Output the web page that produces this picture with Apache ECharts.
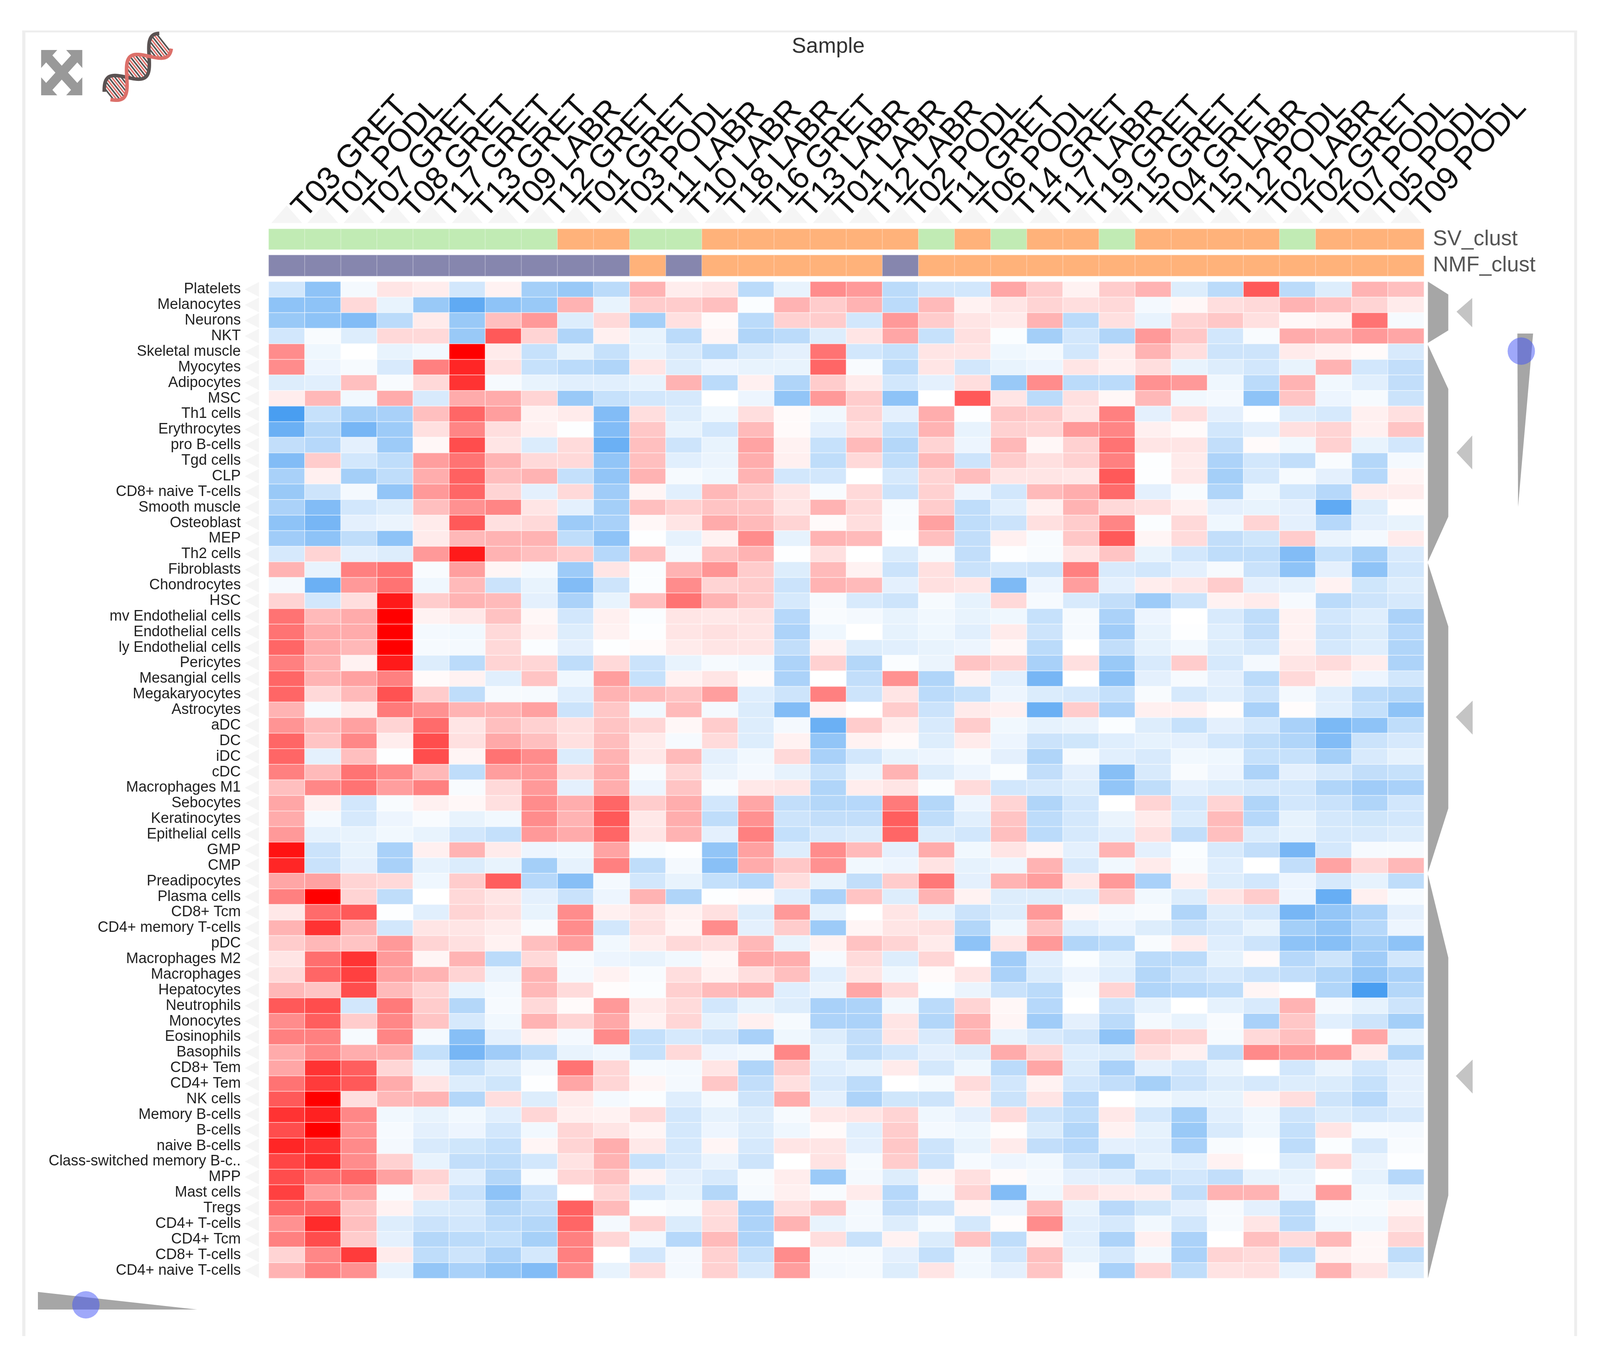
<!DOCTYPE html>
<html>
<head>
<meta charset="utf-8">
<title>Sample heatmap</title>
<script src="https://cdn.jsdelivr.net/npm/echarts@6/dist/echarts.min.js"></script>
<style>
html, body { margin: 0; padding: 0; background: #fff; overflow: hidden; }
#chart { width: 100vw; height: 100vh; }
</style>
</head>
<body>
<div id="chart"></div>
<script>
const sampleLabels = ['T03 GRET','T01 PODL','T07 GRET','T08 GRET','T17 GRET','T13 GRET','T09 LABR','T12 GRET',
  'T01 GRET','T03 PODL','T11 LABR','T10 LABR','T18 LABR','T16 GRET','T13 LABR','T01 LABR',
  'T12 LABR','T02 PODL','T11 GRET','T06 PODL','T14 GRET','T17 LABR','T19 GRET','T15 GRET',
  'T04 GRET','T15 LABR','T12 PODL','T02 LABR','T02 GRET','T07 PODL','T05 PODL','T09 PODL'];

const cellLabels = ['Platelets','Melanocytes','Neurons','NKT','Skeletal muscle','Myocytes','Adipocytes','MSC',
  'Th1 cells','Erythrocytes','pro B-cells','Tgd cells','CLP','CD8+ naive T-cells','Smooth muscle','Osteoblast',
  'MEP','Th2 cells','Fibroblasts','Chondrocytes','HSC','mv Endothelial cells','Endothelial cells','ly Endothelial cells',
  'Pericytes','Mesangial cells','Megakaryocytes','Astrocytes','aDC','DC','iDC','cDC',
  'Macrophages M1','Sebocytes','Keratinocytes','Epithelial cells','GMP','CMP','Preadipocytes','Plasma cells',
  'CD8+ Tcm','CD4+ memory T-cells','pDC','Macrophages M2','Macrophages','Hepatocytes','Neutrophils','Monocytes',
  'Eosinophils','Basophils','CD8+ Tem','CD4+ Tem','NK cells','Memory B-cells','B-cells','naive B-cells',
  'Class-switched memory B-c..','MPP','Mast cells','Tregs','CD4+ T-cells','CD4+ Tcm','CD8+ T-cells','CD4+ naive T-cells'];

// 0 = green, 1 = orange
const svClust = [0,0,0,0,0,0,0,0,1,1,0,0,1,1,1,1,1,1,0,1,0,1,1,0,1,1,1,1,0,1,1,1];
// 2 = purple, 1 = orange
const nmfClust = [2,2,2,2,2,2,2,2,2,2,1,2,1,1,1,1,1,2,1,1,1,1,1,1,1,1,1,1,1,1,1,1];

// -10 full blue .. 10 full red
const cellValues = [
[-2,-5,-.5,1,.7,-2,.5,-4,-4.5,-3,3,.7,1,-3,-1,4.5, 4,-3,-2,-2,3.5,2,.5,2,3,-1.5,-3,6.5,-3,-1.5,3,2.5],
[-5,-5,1.5,-1,-4.5,-7,-5,-4.5,3,-1,2,2,2.5,-.2,3,2, 3,-3,2.7,.5,1,1.7,1.3,1.5,-.5,.3,1.3,1.5,3,2.5,1.7,.8],
[-4.5,-5,-5.5,-3,.8,-4.5,2.5,4,-1.5,1.5,-4,1.2,.2,-3,1.8,2, -2,4,2,1,.8,3,-3,1.2,-1,1.7,2.2,1.2,.3,.5,5.5,-.4],
[-2,-.3,-1.5,1.5,1.5,-4.5,6.5,1.7,-3.5,.6,-1,-3,.4,-3.5,-3,-1.5, 1,3.5,-2.5,1.2,-.2,-4,-2,-3.5,4,2.2,-2,-.3,3.3,3,4,3.5],
[4.5,-.7,0,-1,-.6,10,.8,-2.5,-1,-2.5,-1,-1.7,-3,-1.7,-1.2,5.5, -2,-2.5,1,1,-.7,-.5,-2,.7,3,1.3,-2.2,-2.2,.8,.5,.2,-1.7],
[4.5,-.8,-.4,-1.7,5,8.5,1.2,-2.5,-3,-3.5,1,-1.5,-.8,-1,-1,6, -.3,-3,1,-2,-1,-.8,1,.6,1.3,-1,-1.5,-2,-1,3,-2,-2.7],
[-1.5,-1.3,2.5,-.3,1.5,8,-.4,-1,-1.3,-1.3,-1,3,-3,.6,-3.5,2, .8,-2,-1.2,1.3,-4.5,4.5,-3,-3,4.3,4,-.7,-3,3,-.6,-1.3,-2.7],
[.7,2.8,-.6,3.3,-1.7,3.3,3.3,1.7,-4.5,-2.5,-2,-1.8,0,-.8,-4.8,4, 2,-5,0,6.5,1,-3,1.2,.3,2.8,-.6,-.5,-5,2.3,-.8,-.4,-2.3],
[-8,-2.5,-4,-3.8,2.5,6,3.8,.5,.8,-5.5,1.3,-1.5,-.7,1.3,.2,-.6, 1.7,-1.2,3.2,-.1,2.2,2,1,5,-1.2,1.3,-1.2,-.1,-1.5,-1.8,.6,1.2],
[-6.5,-3.3,-6,-4.3,1.2,4.8,1.3,.6,-.1,-5.5,2.2,-1,-2,2.7,.2,-1.2, 1.3,-2.5,3,-1,1.8,1.7,4,4.8,.6,.2,-2,-1.2,1.2,1.7,.6,2.3],
[-2.7,-3.2,-1.2,-4.3,.3,7,1,-1.6,1.4,-6.5,2.5,-2.2,-1,3.6,.5,-2.5, 2.7,-3.3,1.7,-.8,2.8,.3,1.8,5.5,1,1,-2.7,.2,-.6,1.8,-1,-2],
[-5.5,2,-2,-2.8,3.8,5.5,3,1.5,1.5,-4.8,2.5,-1.3,-.9,3.2,.6,-2.8, 1.5,-2.8,2.8,-2.2,2,1.2,1.8,5,-.1,.8,-3.6,-2,-2.7,-.3,-3.3,-.5],
[-3.8,.6,-4,-2.8,3.2,6.2,2.6,3,-2.6,-4.8,3,-.4,-.7,3,-2,-2, 0,-1.8,1.7,2.6,1,1,.9,6.5,-.1,.9,-4,-1.8,-.4,-1.2,-3.2,.4],
[-4.5,-2.2,-.5,-4.8,4,6,1.7,-1.2,1.5,-4.2,.4,-1.3,2.8,2,1,-.3, 1.5,-2.3,1.8,-.8,-2,2.7,3.2,5.8,-1.2,-.3,-3.5,-.7,-2,-3.2,.7,.7],
[-3.7,-5.5,-2,-1.5,2.5,4.3,4.8,1,-1.2,-4,2.5,1.8,2.3,2.3,1,3, 1.5,-.3,2,-2.8,-1.3,.6,3,1.5,1.2,.6,-1.2,-1,-1.2,-7,-1.5,.1],
[-5,-6,-1.2,-.9,.8,6.5,1.2,1.5,-4.3,-3.8,.3,1,3.3,2.7,1.7,.2, 1.3,-.3,3.7,-2.8,-2.3,1.2,2,4.8,-.2,1.5,-.7,1.7,-1.2,-3.2,-1.2,-1],
[-4.2,-5,-2.8,-5,.8,2.8,3,3,-2.8,-5,-.1,-1.1,.5,4.5,-1.1,3, 2.7,-.1,2.5,-2.7,.6,-.3,2.2,6.5,.4,1.4,-2.7,-2.1,2,-.9,-.5,.8],
[-1.8,1.7,-1.2,-1.5,4,9,3,2.5,2,-3.2,2.5,-.5,2.4,3,-.1,1.2, 0,-1.6,-.4,-2.7,-.1,-.3,1,2.3,-1,-2,-2.8,-2.8,-5.5,-2.5,-4,-1.7],
[3,-1,5,5.5,-.3,3.8,.4,-.5,-4.3,1,-.2,3,4.2,2,-1.5,2.7, .5,-2.3,1.2,-2.4,-2,-2.2,5,-1.7,-2,-1.2,-.4,-2.4,-5,-1.2,-5,-2],
[-.5,-6.5,4,5.5,-.7,2.7,-2.3,-1,-5.5,-2.2,-.2,4.5,1.7,2,-2.3,3, 2.7,-1.2,1.2,1,-5.7,-.8,3.8,-1.2,.7,1,2,-1.2,-1.1,.5,-2.1,-1.5],
[1.7,-2,1.3,9,2,3,2.7,-1.2,-3.7,-1,2.5,5.5,3,2,-1.8,-.4, -1.7,-2.2,-.4,-1.1,1.5,-.4,-1.7,-2.7,-4.3,-2.3,.5,.8,-.4,-3,-2.2,-1.8],
[5.5,2.7,3.3,10,.5,.9,2.4,.3,-2,.6,-.2,1,.9,1.1,-3.2,-.3, -.5,-1,-.6,-1,-.7,-2.5,-.4,-3.7,-.8,0,-1.7,-2.8,.5,-2,-1.4,-3.7],
[5.5,3.3,3.3,10,-.5,-.6,1.5,.5,-1.5,.5,-.1,1,1.2,1,-3.6,-.7, 0,-1.1,-.7,-1.3,.8,-2.2,-.4,-4.2,-1,-.1,-1.4,-2.7,.5,-2.2,-1.6,-3.2],
[6,3.3,2.8,10,-.4,-.5,1.5,-.2,-1.2,-.1,.2,.8,1,1,-2.7,.5, -1.5,-1.3,-1,-.8,.3,-3,0,-2.7,-1.1,-.6,-1.5,-1.9,.6,-1.9,-1.4,-3.5],
[5,3,.5,9,-1.5,-3,1.7,1.6,-2.8,1.5,-2.3,-1,-.4,-.6,-3.6,1.8, -3.3,-.2,-.9,2.3,1.7,-3.8,1.2,-4.5,-1.7,2,-1.8,-.5,1,1.4,.7,-3.6],
[6,3,3.7,5,.2,.5,-1.3,2.3,-.7,3.8,-2.5,.5,1,.2,-3.7,0, -2.7,4.3,-3.5,.5,-1.2,-6,0,-5.2,-1.2,-.4,-1.2,-3,1.5,.5,-.8,-2],
[6,1.5,2.7,6.8,2,-2.8,-.4,-.4,-1.4,3,2.7,2.3,3.8,-1.4,-2.2,5, -2.2,1,-3,-2.5,-.8,-1.6,-1.8,-2.6,-.3,-1.8,-1.3,-2.2,-.5,-1.4,-3,-3.3],
[3,-.4,.8,5.2,4.3,3,3,3.7,-2.3,2.2,-.6,2.7,-.5,-1.6,-5.5,.5, 0,2,-2.3,.8,.6,-6.5,2,-3.7,.6,.6,.1,-3.8,.1,-1.3,-2.6,-5],
[4.2,2.7,3.7,1.7,5.8,1,2.5,1.8,1.2,2.3,1.6,.3,2,-1.5,-.5,-6.5, 2,.7,-1.7,2,-.6,-1.1,-.9,-.2,-1.5,-2.5,-1.2,-1.9,-3.8,-5.8,-5,-2.8],
[6,2.3,4.7,.7,7,1.2,3.4,2.5,1.2,2.6,.8,-.4,1.4,-1.5,.5,-4.8, .5,.2,-1.5,.8,-.8,-2.3,-2.1,-1.4,-1.1,-1.2,-2,-2.8,-3.5,-5.5,-2.3,-1.8],
[6,-1.2,2.5,-.1,7,.4,5.5,4.5,-1.6,3,.9,2.7,-1.2,-.6,1.5,-3.8, -2,-1,-.8,-.4,-1.2,-3.5,-.4,-1.3,-1.7,-.6,-.7,-2.5,-2.5,-4,-1.7,-1.1],
[5,2.7,5.5,4.6,2.8,-2.8,3.8,4,1.5,3.2,-.3,1.6,-.9,-.5,-1.1,-2.5, -.9,3,-1.5,-.8,-.2,-2.7,-1.2,-5.3,-1.7,-.3,-.8,-3.6,-1.2,-1.8,-2.7,-2.5],
[2.5,4.7,5.5,3.8,5,-.3,1.5,4,-1.2,3.2,-.8,2.3,-.3,.9,1,-3.5, .7,1,-.2,1.4,-2,-1.8,-1.5,-4.8,-2.8,-1.2,-1.6,-1.8,-2,-3.5,-4.2,-3.8],
[3.5,.6,-2,-.3,.6,.3,1.2,4.5,3.2,6,2,3.2,-2,3.5,-2.7,-3.3, -3.2,5.2,-3.3,-.8,1.7,-3.5,-2,0,1.7,-2,1.7,-3.5,-2,-2.4,-3.5,-2],
[3.3,-.5,-1.8,-.8,-.3,-1,-.6,4.5,3,6.5,.9,3.2,-2.8,4.3,-2.2,-2.7, -2.7,6.3,-2.8,-1.3,2.3,-2.9,-1.9,-.9,.8,-1.6,2.7,-3.2,-1.1,-1.9,-2.1,-2],
[4,-1.1,-1,-.6,-1,-2,-2.6,4,3.3,6,1,3,-1.2,5,-2.6,-1.8, -1.6,6,-1.6,-2,2.5,-3,-1.8,-1.3,1.2,-2.7,2.5,-1.6,-1.1,-1.8,-1.7,-1.5],
[9.3,-2.3,-1,-3.8,.6,3,.8,-.8,-.7,3.6,-.3,-.1,-4.8,3.7,-1.5,4.5, 2.7,-1.2,3.3,-.6,1,.4,-1.2,3,-1.2,-.2,-1.7,-2.7,-6,-1.9,-.4,-.4],
[8.5,-2.4,-1.2,-3.8,-1.1,-1.6,-1,-4,-1.1,5,-2.8,-.5,-5.2,3.3,2.2,4.3, -.6,-.8,1.1,-1.1,-.8,3,-1.7,-.6,.8,-.3,-1.4,0,-2.7,3.6,1.5,2.8],
[3.5,3.7,1.7,1.5,-.7,2,6.3,-3.2,-5.3,-.5,-2,-1,-2.6,-3.2,1.3,-1, -2.7,2,5.3,-1.2,3,3.8,.9,4,-3.8,.6,-1.5,-2,-.8,-1.8,-1.1,-2.8],
[5,10,1.7,-2.8,0,1.5,1,-1.2,-2.4,-.8,3,-3.5,-.1,.2,-1.4,-3.7, 2.3,-1.5,3,.5,-1.5,-1.5,-1.5,2,-.6,-1.5,1,2,-.8,-6.7,.6,-.4],
[.9,5.8,6.5,-.1,-1.3,1.7,1.2,-1,4.5,.6,1,.5,1.2,-1.5,4,-1.1, 0,1,-1,-2.3,-1.5,4,.3,-.5,-.3,-3.5,-1.5,-2,-6,-4.7,-3.6,-1.2],
[3,8,3,-2,1,1,.7,-.3,4.5,-2,1.2,.4,4.5,-1.2,2,-4.3, .4,1,1.2,-3.4,-.7,2.4,-1.3,-.8,-1.5,-2.3,-1.8,-1,-4,-4.8,-3.2,-.8],
[2,2.8,2.3,4,1.7,1.2,.5,2.5,3.8,-.6,.7,1.5,1.2,2.8,-1,.5, 2.4,1.7,.8,-5,1,4,-3.4,-3,-.3,.8,-1.4,-2.2,-5,-5.3,-4,-5],
[1,5.7,8,4,.4,3,-3,1.5,-.4,-.8,-1,-.6,.3,3.5,3.2,-.4, 1.4,-1.5,1.6,0,-4.2,-1.3,-.2,-1.1,-3,-3,-1.1,.2,-3.2,-2.2,-4.2,-2],
[1.5,6,7.5,3.7,3,1.7,-.9,3,-.5,.5,-.3,1.3,.5,1.3,2.5,-1.3, 1,-.7,.2,1,-3.7,-1.6,-.8,-1.4,-3.3,-2.2,-1.8,-2.3,-2.7,-3.5,-4.7,-3.8],
[2.8,2.3,7,2.7,1.7,-1,-.5,2.8,1.4,.1,-.2,1.9,2.7,3.1,-1.4,-.9, 3.5,1.5,-.2,-.9,-2.4,-3,-.3,1.7,-3.5,-3.2,-2.8,.4,-.1,-3.5,-8,-3.3],
[6.5,7,-2,5.2,2,-3.3,-.4,1.5,.2,4,.8,1.4,-2,-1,-1.5,-3.8, -3.6,-.6,-3,1.7,.3,-3.2,0,-2.2,-1.1,0,-1.1,-1.7,3,-.5,-1.1,-2.2],
[4.5,6.3,2,4.7,2.3,-1.8,-.6,3,1.7,3.4,.5,1.6,-1.1,.6,-.4,-3.6, -3.7,1,-3.4,3,.4,-4.2,-1.2,-3,-.5,-1,-.3,-3.8,2.2,-1.3,-2.2,-4],
[5,5,-.4,4.8,-.5,-5.3,-1.2,.6,-.5,4.6,-2.6,-1.8,-2.2,-3.8,-.7,-1.5, -2.7,1,-1.7,3,-1,-1.7,-2.2,-5,2,1.7,-.4,1.5,2.5,-.1,3.5,-1.1],
[3.3,4.7,3.2,3.2,-2.6,-6,-4.2,-2.8,-1,-.7,-2.5,1.5,-.8,-.6,4.7,-1, -2.8,-2,-1.2,-1.5,3.3,1.6,-1.4,-1.6,1.2,.6,-2.7,4.6,4,4,.7,-3.3],
[3.5,8,6.3,1.6,-.9,-2.6,-1.5,-.5,5.5,1.6,-.4,-.5,1,-3.5,2,-1.4, -1,.8,-1.9,-.7,-3,3.5,-1.6,-3.8,-1.2,-2,-1,0,-2,-.9,-2,-1.2],
[5.5,7.7,6.5,3.3,1,-1.5,-2.1,-.1,3.5,1.6,.4,-.5,2.2,-2.7,1.2,-1.7, -2.9,0,-.4,1.4,-2,.5,-2,-2.7,-3.9,-2.3,-1.5,-1.8,-1.5,-1.6,-2.5,-1.2],
[6.5,10,1.3,2.8,3,-3.3,1.3,-1.5,.8,-.5,-.2,-1.4,-.5,-2.2,3.3,-1.2, -3.6,-2.1,-2.2,.7,-2.3,1,-3.1,0,-.6,-1,-1,.5,1.3,-2.2,-3.2,-1.2],
[8,8.7,4.7,-.6,-1,-.6,-1.3,1.6,.6,.5,1.5,-2,-1.1,-1.5,-.4,.9, 1,1.7,-.7,-1.2,1.4,-2.2,-2.8,.9,-1.9,-4,-1.3,-.7,-2.2,-1.6,-2,-1.7],
[7,10,4.3,-.4,-1.2,-.8,-2,-.6,1.6,1,.4,-1.9,-.8,-1.5,-.7,.2, -1.3,2,-.5,-.7,.1,-1.6,-3.4,.5,-1.1,-4.5,-1.7,-.7,-2.6,1,-.4,-.5],
[8.5,8,4.6,-.5,-1.7,-2.1,-2.6,.4,1.7,3.2,.9,-1.9,.4,-1.8,1,1, -1.2,2.2,-2.2,-1,.8,-2.7,-3.2,-1.2,-1.3,-3.8,-.3,-.1,-2.9,-.2,-1.7,-.3],
[7.3,8.3,4.5,1.8,-1,-2.7,-2.9,-2,1.1,3,-2.5,-1.8,-.9,-2.2,0,1.1, -.4,2,-2.4,-.4,-.8,-.6,-2.2,-3.5,-1,-1.3,.5,0,-1.6,1.6,-.9,-.1],
[7,5.7,6,3.7,1.7,-1.3,-3.3,-.3,1.6,2.4,.5,-1.2,-1.7,-.3,.7,-4.4, -.5,-1.5,.4,1.2,.2,-.5,-1.2,-1.3,-2.6,-2,-2.7,-1,-1,-.1,-1.1,-3.2],
[7.5,3.8,3.7,-.3,1,-2.4,-5,-2.3,0,1.6,-2,-1.1,-3.3,-.4,.6,-.3, .8,-3.2,-.5,1.7,-5.5,-.7,1.2,.8,.7,-2.7,3,3,-.8,3.8,-.6,-1],
[6,6,2.3,.5,-1.6,-1.7,-3.4,-2.7,6.2,2.7,-.2,-.4,1.3,-3.7,1.3,2.2, -.5,-2.7,-2.2,.4,-.8,2.8,-1,-3.1,-2.1,-1.2,-.4,-1.2,-2.9,-.4,-.4,.4],
[4.3,8.3,2.5,-1.5,-2.3,-2,-2.9,-3.3,6,-.5,1.8,-1.6,1.4,-3.6,3,-1, -.5,-1.5,-.4,-1.9,.1,4.5,-1.3,-1.8,-.6,-2,-.4,1,-3,-.7,-.7,1],
[5,7,2,-1.2,-3.3,-3,-2.6,-3.9,5,1.6,-.6,-3.2,2.7,-3.6,-.1,1.3, -2.4,.5,-1.6,2.4,-2.8,.4,-1.3,-3.6,.6,-3.7,0,2.5,1.4,2.8,.3,1.7],
[1.7,4.7,7.7,.8,-2.8,-2.2,-3.6,-1.9,5,0,-2,-.5,1.8,-2.5,4.5,-.4, -.4,-1.2,-2.6,-.6,-2,2.5,-1,-1.8,-.6,-3.7,1.7,1.4,-3,.5,.3,-2.8],
[3,5,4.3,-1,-4.7,-3.8,-4.7,-5.5,4.5,-1,1.4,-.5,1.8,-1.7,3.8,-.5, -.4,-1.5,1,-.6,-1.2,2.3,-.3,-3.8,1.7,-2.8,1.1,1.2,-1.1,3,1,-1.5]
];

const PAGE_FONT = '"Liberation Sans", Arial, sans-serif';

const chartEl = document.getElementById('chart');
const chart = echarts.init(chartEl);

// layout is measured in the 4472 wide reference, the window may be narrower
const sx = chart.getWidth() / 4472;
const X = v => v * sx;
const fs = v => Math.round(v * sx);

const HEAT = { left: 751, top: 721, width: 3229, height: 2552 };
const SV_TOP = 586, NMF_TOP = 653, TRACK_H = 53;

function heatData () {
    const out = [];
    cellValues.forEach((row, r) => row.forEach((v, c) => out.push([c, r, v])));
    return out;
}

function poly (points, fill) {
    return { type: 'polygon', silent: true, shape: { points: points.map(p => [X(p[0]), p[1]]) }, style: { fill: fill } };
}

function box (x, y, w, h, fill) {
    return { type: 'rect', silent: true, shape: { x: X(x), y: y, width: X(w), height: h }, style: { fill: fill } };
}

function bar (x1, y1, x2, y2, stroke, w) {
    return { type: 'line', silent: true, shape: { x1: X(x1), y1: y1, x2: X(x2), y2: y2 }, style: { stroke: stroke, lineWidth: w } };
}

function dot (cx, cy) {
    return { type: 'circle', silent: true, z: 10, shape: { cx: X(cx), cy: cy, r: 35 }, style: { fill: '#3f51f5', opacity: 0.5 } };
}

// frame, pale triangles, dendrogram, sliders and the two icons
function decoration () {
    const g = [];
    const frame = '#eeeeee';
    g.push(box(62, 78, 4346, 5, frame), box(62, 78, 9, 3343, frame), box(4400, 78, 8, 3343, frame));

    const colW = HEAT.width / sampleLabels.length, rowH = HEAT.height / cellLabels.length;
    sampleLabels.forEach((s, i) => {
        const cx = HEAT.left + colW * (i + 0.5);
        g.push(poly([[cx - 43, 571], [cx, 526], [cx + 43, 571]], '#f5f5f5'));
    });
    cellLabels.forEach((s, i) => {
        const cy = HEAT.top + rowH * (i + 0.5);
        g.push(poly([[724, cy - 19], [684, cy], [724, cy + 19]], '#f5f5f5'));
    });

    const dendro = '#a6a6a6';
    g.push(poly([[3991, 721], [4048, 754], [4048, 846], [3991, 878]], dendro));
    g.push(poly([[3991, 883], [4048, 996], [4048, 1323], [3991, 1438]], dendro));
    g.push(poly([[3991, 1442], [4048, 1604], [4048, 2070], [3991, 2234]], dendro));
    g.push(poly([[3991, 2239], [4048, 2452], [4048, 3061], [3991, 3273]], dendro));

    const side = '#c4c4c4';
    g.push(poly([[4071, 798], [4115, 763], [4115, 838]], side));
    g.push(poly([[4071, 1159], [4115, 1115], [4115, 1202]], side));
    g.push(poly([[4069, 1836], [4116, 1794], [4116, 1881]], side));
    g.push(poly([[4069, 2755], [4116, 2713], [4116, 2800]], side));

    g.push(poly([[4241, 854], [4285, 854], [4243, 1298]], dendro), dot(4252, 899));
    g.push(poly([[106, 3308], [106, 3353], [551, 3353]], dendro), dot(240, 3341));

    // expand icon
    const grey = '#999999';
    [[[115, 128], [160, 128], [115, 174]], [[230, 128], [185, 128], [230, 174]],
     [[115, 244], [160, 244], [115, 198]], [[230, 244], [185, 244], [230, 198]]].forEach(p => g.push(poly(p, grey)));
    g.push(bar(128, 141, 217, 231, grey, 24), bar(217, 141, 128, 231, grey, 24));

    // dna icon, two strands with rungs
    const ax = 300, ay = 245, bx = 462, by = 105, amp = 34, steps = 64;
    const dx = bx - ax, dy = by - ay, len = Math.hypot(dx, dy), nx = -dy / len, ny = dx / len;
    const strand = (phase) => {
        const pts = [];
        for (let i = 0; i <= steps; i++) {
            const t = i / steps, w = Math.sin(t * Math.PI * 2.6 + phase) * amp;
            pts.push([X(ax + dx * t + nx * w), ay + dy * t + ny * w]);
        }
        return pts;
    };
    const s1 = strand(0.4), s2 = strand(0.4 + Math.PI);
    for (let i = 2; i < steps; i += 2) {
        g.push({ type: 'line', silent: true, shape: { x1: s1[i][0], y1: s1[i][1], x2: s2[i][0], y2: s2[i][1] },
            style: { stroke: i % 4 ? '#555555' : '#e0736d', lineWidth: 4 } });
    }
    g.push({ type: 'polyline', silent: true, shape: { points: s2 }, style: { stroke: '#5a5252', lineWidth: 9, fill: null } });
    g.push({ type: 'polyline', silent: true, shape: { points: s1 }, style: { stroke: '#dc706a', lineWidth: 9, fill: null } });

    g.push({ type: 'text', silent: true, style: { x: X(2315), y: 120, text: 'Sample', fill: '#333333',
        font: fs(60) + 'px ' + PAGE_FONT, textAlign: 'center', textVerticalAlign: 'middle' } });
    return g;
}

function trackAxis (gridIndex, name) {
    return {
        type: 'category', gridIndex: gridIndex, data: [name], position: 'right',
        axisLine: { show: false, onZero: false }, axisTick: { show: false }, splitLine: { show: false },
        axisLabel: { color: '#555555', fontSize: fs(60), fontFamily: PAGE_FONT, margin: X(25) }
    };
}

function trackSeries (axisIndex, values) {
    return {
        type: 'heatmap', xAxisIndex: axisIndex, yAxisIndex: axisIndex,
        data: values.map((v, i) => [i, 0, v]),
        progressive: 0, animation: false,
        itemStyle: { borderColor: 'rgba(255,255,255,0.25)', borderWidth: 2 }
    };
}

chart.setOption({
    animation: false,
    backgroundColor: '#ffffff',
    tooltip: { show: false },
    graphic: { elements: decoration() },
    grid: [
        { left: X(HEAT.left), top: HEAT.top, width: X(HEAT.width), height: HEAT.height },
        { left: X(HEAT.left), top: SV_TOP, width: X(HEAT.width), height: TRACK_H },
        { left: X(HEAT.left), top: NMF_TOP, width: X(HEAT.width), height: TRACK_H + 1 }
    ],
    xAxis: [
        { type: 'category', gridIndex: 0, data: sampleLabels, show: false },
        {
            type: 'category', gridIndex: 1, data: sampleLabels, position: 'top',
            axisLine: { show: false, onZero: false }, axisTick: { show: false }, splitLine: { show: false },
            axisLabel: {
                // a top axis flips the sign of rotate
                interval: 0, rotate: -47, color: '#111111', fontSize: 82, fontFamily: PAGE_FONT,
                margin: 68, verticalAlign: 'top', align: 'left', hideOverlap: false
            }
        },
        { type: 'category', gridIndex: 2, data: sampleLabels, show: false }
    ],
    yAxis: [
        {
            type: 'category', gridIndex: 0, data: cellLabels, inverse: true,
            axisLine: { show: false, onZero: false }, axisTick: { show: false }, splitLine: { show: false },
            axisLabel: { interval: 0, color: '#222222', fontSize: fs(41), fontFamily: PAGE_FONT, margin: X(78), hideOverlap: false }
        },
        trackAxis(1, 'SV_clust'),
        trackAxis(2, 'NMF_clust')
    ],
    visualMap: [
        {
            show: false, type: 'continuous', seriesIndex: 0, min: -10, max: 10, dimension: 2,
            inRange: { color: ['#1c86ee', '#ffffff', '#ff0000'] }
        },
        {
            show: false, type: 'piecewise', seriesIndex: [1, 2], dimension: 2,
            pieces: [
                { value: 0, color: '#c1ebb4' },
                { value: 1, color: '#ffb27a' },
                { value: 2, color: '#8686ae' }
            ]
        }
    ],
    series: [
        {
            type: 'heatmap', xAxisIndex: 0, yAxisIndex: 0, data: heatData(),
            progressive: 0, animation: false,
            itemStyle: { borderColor: 'rgba(255,255,255,0.55)', borderWidth: 2 }
        },
        trackSeries(1, svClust),
        trackSeries(2, nmfClust)
    ]
});
</script>
</body>
</html>
